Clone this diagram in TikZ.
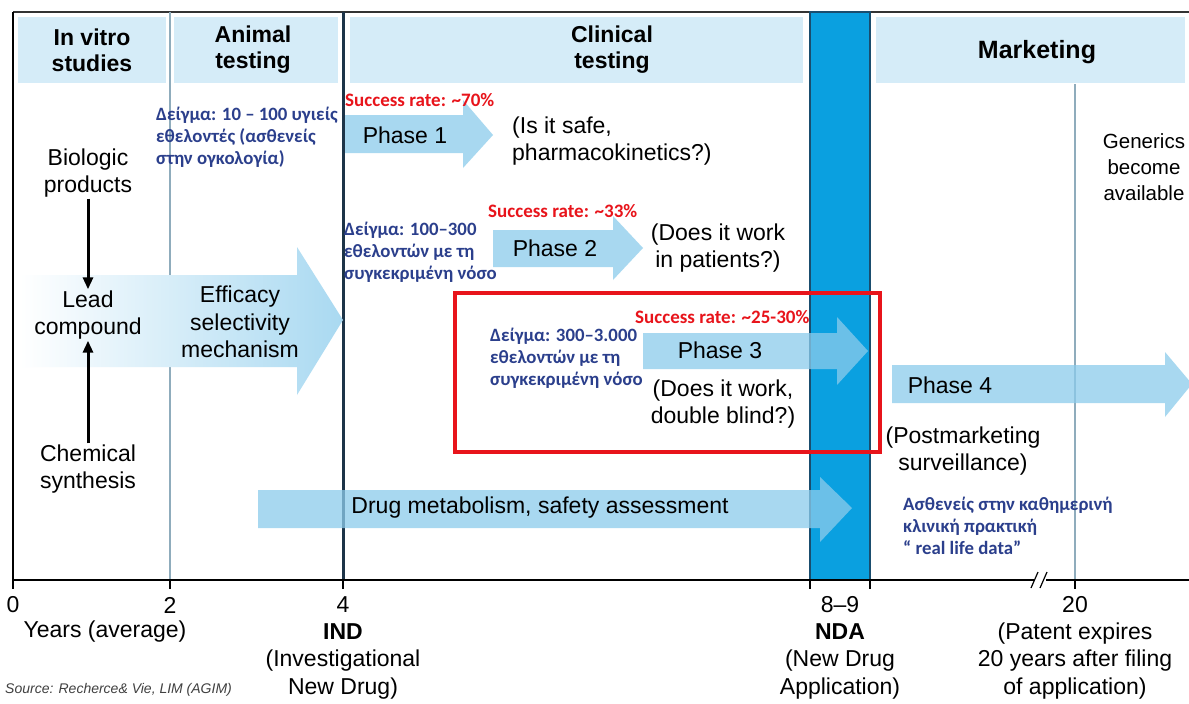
\documentclass[tikz,border=0pt]{standalone}
\usepackage{fontspec}
\setmainfont{Liberation Sans}
\newfontfamily\calfont{Carlito}
\usetikzlibrary{arrows.meta}
\definecolor{hdr}{RGB}{213,236,248}
\definecolor{arrc}{RGB}{140,204,236}
\definecolor{arrl}{RGB}{169,217,241}
\definecolor{nda}{RGB}{10,160,224}
\definecolor{ndab}{RGB}{26,77,110}
\definecolor{grk}{RGB}{43,63,140}
\definecolor{rd}{RGB}{232,20,27}
\definecolor{indc}{RGB}{29,52,72}
\definecolor{thinc}{RGB}{143,172,188}
\begin{document}
\begin{tikzpicture}[x=1pt,y=-1pt,
  txt/.style={font=\fontsize{23}{27.5}\selectfont, align=center, inner sep=1pt},
  hd/.style={font=\bfseries\fontsize{23}{26}\selectfont, align=center, inner sep=1pt},
  gr/.style={font=\calfont\bfseries\fontsize{18.8}{22}\selectfont, text=grk, align=left, anchor=west, inner sep=0pt},
  rdt/.style={font=\calfont\bfseries\fontsize{19}{20}\selectfont, text=rd, anchor=west, inner sep=0pt},
  arr/.style={fill=arrc, fill opacity=0.75, draw=none},
  hdrbox/.style={fill=hdr, draw=none},
  tick/.style={line width=1.5pt, black},
  blk/.style={line width=3pt, -{Triangle[width=10pt,length=12pt]}}
]
\useasboundingbox (0,0) rectangle (1189,704);
\fill[white] (0,0) rectangle (1189,704);
% header bands
\fill[hdrbox] (18,17) rectangle (166,83);
\fill[hdrbox] (174,17) rectangle (338,83);
\fill[hdrbox] (350,17) rectangle (803,83);
\fill[hdrbox] (876,17) rectangle (1185,83);
% frame
\draw[line width=2pt, black!80] (13,12) -- (1189,12);
\draw[line width=2pt, black] (13,12) -- (13,580);
% vertical lines
\draw[line width=1.8pt, thinc] (170,12) -- (170,580);
\draw[line width=1.8pt, thinc] (1075,84) -- (1075,580);
\draw[line width=3pt, indc] (343,12) -- (343,580);
\filldraw[fill=nda, draw=ndab, line width=1.5pt] (810,12) rectangle (870,580);
% arrows (shapes)
\shade[left color=white, right color=arrl] (20,275) -- (297,275) -- (297,247) -- (343,320) -- (297,395) -- (297,367) -- (20,367) -- cycle;
\fill[arr] (345,115) -- (463,115) -- (463,100) -- (493,135) -- (463,168) -- (463,153) -- (345,153) -- cycle;
\fill[arr] (493,230) -- (613,230) -- (613,216) -- (643,248) -- (613,280) -- (613,267) -- (493,267) -- cycle;
\fill[arr] (643,333) -- (837,333) -- (837,317) -- (868,351) -- (837,385) -- (837,369) -- (643,369) -- cycle;
\fill[arr] (258,490) -- (820,490) -- (820,477) -- (852,508) -- (820,542) -- (820,528) -- (258,528) -- cycle;
\fill[arr] (892,365) -- (1165,365) -- (1165,352) -- (1192,384) -- (1165,417) -- (1165,403) -- (892,403) -- cycle;
% red box
\draw[line width=4pt, rd] (455,293) rectangle (880,452);
% axis
\draw[line width=2pt, black] (13,580) -- (1189,580);
\foreach \xx in {13,170,343,810,870,1075} \draw[tick] (\xx,580) -- (\xx,589);
\draw[line width=1.2pt, white] (1034,580) -- (1046,580);
\draw[line width=1.2pt] (1031,588) -- (1038,572);
\draw[line width=1.2pt] (1040,588) -- (1047,572);
% headers
\node[hd] (h1) at (92,50) {In vitro\\studies};
\node[hd] (h2) at (253,50) {Animal\\testing};
\node[hd] (h3) at (612,50) {Clinical\\testing};
\node[hd, font=\bfseries\fontsize{25}{26}\selectfont] (h4) at (1037,52) {Marketing};
% left column
\node[txt] (bio) at (88,173) {Biologic\\products};
\node[txt] (lead) at (88,315) {Lead\\compound};
\node[txt] (chem) at (88,469) {Chemical\\synthesis};
\draw[blk] (bio.south) -- (lead.north);
\draw[blk] (chem.north) -- (lead.south);
\node[txt] (eff) at (240,322) {Efficacy\\selectivity\\mechanism};
% phase 1
\node[gr] (g1) at (156,137) {Δείγμα: 10 – 100 υγιείς\\ εθελοντές (ασθενείς\\ στην ογκολογία)};
\node[rdt] (r1) at (345,100) {Success rate: \textasciitilde 70\%};
\node[txt] (p1) at (405,135) {Phase 1};
\node[txt, align=left, anchor=west] (q1) at (511,141) {(Is it safe,\\pharmacokinetics?)};
% phase 2
\node[gr] (g2) at (344,252) {Δείγμα: 100–300\\ εθελοντών με τη\\ συγκεκριμένη νόσο};
\node[rdt] (r2) at (488,211) {Success rate: \textasciitilde 33\%};
\node[txt] (p2) at (555,248) {Phase 2};
\node[txt] (q2) at (718,248) {(Does it work\\in patients?)};
% phase 3
\node[rdt] (r3) at (635,317) {Success rate: \textasciitilde 25-30\%};
\node[gr] (g3) at (490,358) {Δείγμα: 300–3.000\\ εθελοντών με τη\\ συγκεκριμένη νόσο};
\node[txt] (p3) at (720,350) {Phase 3};
\node[txt] (q3) at (723,404) {(Does it work,\\double blind?)};
% drug metabolism
\node[txt] (dm) at (540,508) {Drug metabolism, safety assessment};
% phase 4
\node[txt] (p4) at (950,385) {Phase 4};
\node[txt] (q4) at (963,451) {(Postmarketing\\surveillance)};
\node[gr] (g4) at (903,526) {Ασθενείς στην καθημερινή\\ κλινική πρακτική\\“ real life data”};
\node[txt, font=\fontsize{20.5}{26}\selectfont] (gen) at (1144,167) {Generics\\become\\available};
% axis labels
\node[txt] (t0) at (13,605) {0};
\node[txt] (t2) at (170,605) {2};
\node[txt] (t4) at (343,605) {4};
\node[txt] (t8) at (840,605) {8–9};
\node[txt] (t20) at (1075,605) {20};
\node[txt] (yrs) at (105,632) {Years (average)};
\node[txt] (indl) at (343,661) {\textbf{IND}\\(Investigational\\New Drug)};
\node[txt] (ndal) at (840,661) {\textbf{NDA}\\(New Drug\\Application)};
\node[txt] (pat) at (1075,661) {(Patent expires\\20 years after filing\\of application)};
\node[font=\itshape\fontsize{14}{16}\selectfont, text=black!75, anchor=west, inner sep=0pt] (src) at (5,690) {Source: Recherce\& Vie, LIM (AGIM)};
\end{tikzpicture}
\end{document}
